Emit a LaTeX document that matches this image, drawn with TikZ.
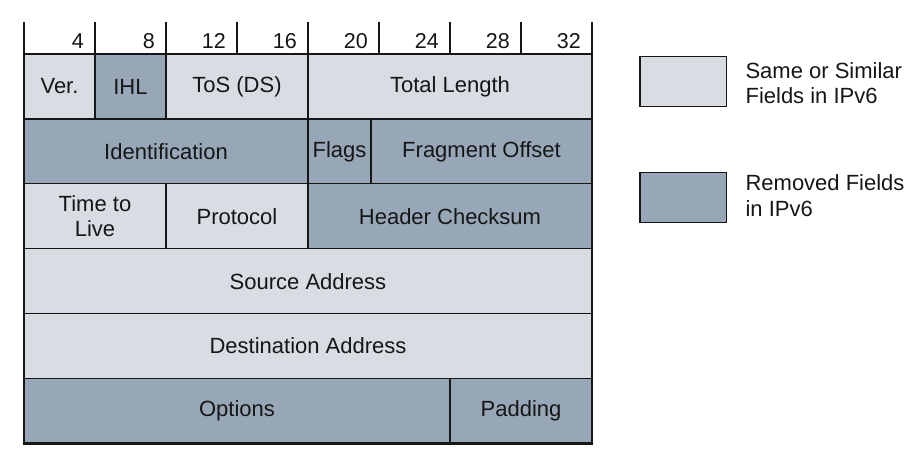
\documentclass[tikz,border=0pt]{standalone}
\usepackage{fontspec}
\setmainfont{Liberation Sans}
\definecolor{same}{HTML}{D8DDE3}
\definecolor{gone}{HTML}{97A7B8}
\definecolor{ink}{HTML}{161616}
\begin{document}
\begin{tikzpicture}[x=1pt,y=-1pt,
  field/.style={draw=ink, line width=1.2pt, inner sep=0pt, outer sep=0pt,
    minimum height=64.9pt, text=ink, align=center,
    font=\fontsize{22}{25.5}\selectfont},
  keep/.style={field, fill=same},
  drop/.style={field, fill=gone},
  hdrcell/.style={inner sep=0pt, outer sep=0pt, minimum width=71pt, minimum height=32pt},
  bitnum/.style={anchor=base east, inner sep=0pt, text=ink, font=\fontsize{21.5}{25}\selectfont},
  sep/.style={draw=ink, line width=1.2pt},
  frame/.style={draw=ink, line width=2.2pt, line join=miter},
  swatch/.style={draw=ink, line width=1.4pt, inner sep=0pt, minimum width=86.7pt, minimum height=50pt},
  legendtext/.style={anchor=west, inner sep=0pt, align=left, text=ink,
    font=\fontsize{22}{25.5}\selectfont}
]
\useasboundingbox (0,0) rectangle (910,459);

% bit ruler
\foreach \b [count=\i] in {4,8,12,16,20,24,28,32}
  \node[hdrcell] (h\b) at ({24+71*\i-35.5},38) {};
\foreach \b in {4,8,12,16,20,24,28,32}
  \node[bitnum] (n\b) at ([xshift=-11pt,yshift=6pt]h\b.south east) {\b};
\foreach \b in {4,8,12,16,20,24,28}
  \draw[sep] (h\b.north east) -- (h\b.south east);

% row 1
\node[keep, minimum width=71pt]  (ver)   at (59.5,86.45)  {Ver.};
\node[drop, minimum width=71pt]  (ihl)   at (130.5,86.45) {IHL};
\node[keep, minimum width=142pt] (tos)   at (237,86.45)   {ToS (DS)};
\node[keep, minimum width=284pt] (tlen)  at (450,86.45)   {Total Length};
% row 2
\node[drop, minimum width=284pt] (ident) at (166,151.35)  {Identification};
\node[drop, minimum width=63pt]  (flags) at (339.5,151.35){Flags};
\node[drop, minimum width=221pt] (frag)  at (481.5,151.35){Fragment Offset};
% row 3
\node[keep, minimum width=142pt] (ttl)   at (95,216.25)   {Time to\\Live};
\node[keep, minimum width=142pt] (proto) at (237,216.25)  {Protocol};
\node[drop, minimum width=284pt] (cksum) at (450,216.25)  {Header Checksum};
% rows 4 and 5
\node[keep, minimum width=568pt] (src)   at (308,281.15)  {Source Address};
\node[keep, minimum width=568pt] (dst)   at (308,346.05)  {Destination Address};
% row 6
\node[drop, minimum width=426pt] (opt)   at (237,410.95)  {Options};
\node[drop, minimum width=142pt] (pad)   at (521,410.95)  {Padding};

% outer frame
\draw[frame] (h4.north west) -- (opt.south west) -- (pad.south east) -- (h32.north east);

% legend
\node[swatch, fill=same] (kSame) at (683.3,81.7) {};
\node[legendtext] (tSame) at ([xshift=18pt,yshift=-1.5pt]kSame.east) {Same or Similar\\Fields in IPv6};
\node[swatch, fill=gone] (kGone) at (683.3,197.7) {};
\node[legendtext] (tGone) at ([xshift=18pt,yshift=2pt]kGone.east) {Removed Fields\\in IPv6};
\end{tikzpicture}
\end{document}
